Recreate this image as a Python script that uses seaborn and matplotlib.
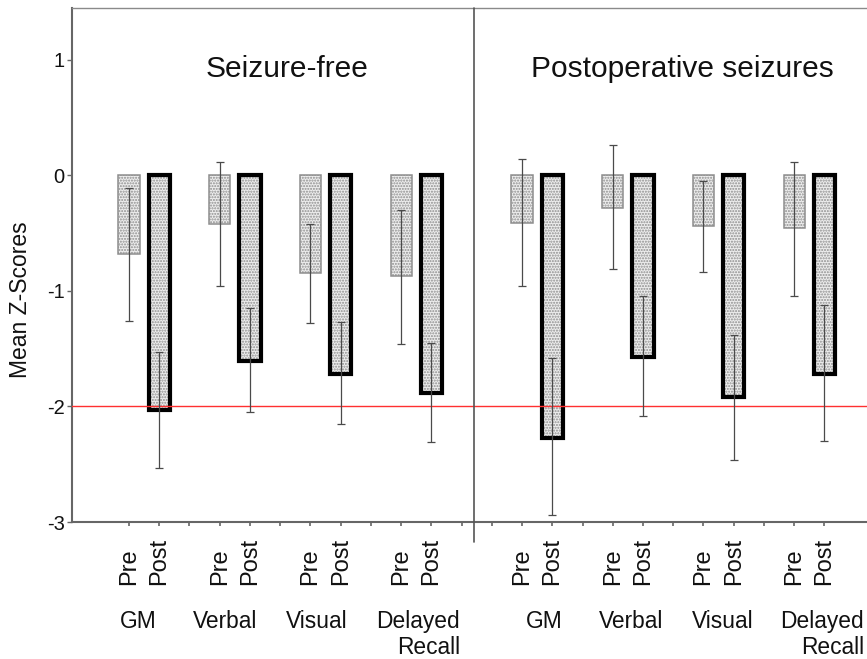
import matplotlib
matplotlib.use("Agg")
import matplotlib.pyplot as plt
import matplotlib.transforms as mtransforms
from matplotlib.patches import Rectangle
import numpy as np
import pandas as pd
import seaborn as sns

# ---------------- data ----------------
panels = ["Seizure-free", "Postoperative seizures"]
groups = ["GM", "Verbal", "Visual", "Delayed\nRecall"]
phases = ["Pre", "Post"]

# Seizure-free
sf_pre = [-0.68, -0.42, -0.85, -0.87]
sf_post = [-2.03, -1.61, -1.72, -1.88]
sf_pre_err_top = [-0.11, 0.115, -0.42, -0.30]
sf_pre_err_bot = [-1.26, -0.96, -1.28, -1.46]
sf_post_err_top = [-1.53, -1.15, -1.27, -1.45]
sf_post_err_bot = [-2.53, -2.05, -2.15, -2.31]

# Postoperative seizures
ps_pre = [-0.41, -0.28, -0.44, -0.46]
ps_post = [-2.27, -1.57, -1.92, -1.72]
ps_pre_err_top = [0.14, 0.26, -0.05, 0.11]
ps_pre_err_bot = [-0.955, -0.81, -0.84, -1.045]
ps_post_err_top = [-1.58, -1.045, -1.38, -1.12]
ps_post_err_bot = [-2.94, -2.08, -2.46, -2.30]

threshold = -2

# ---------------- build table ----------------
panel_vals = [
    (sf_pre, sf_post, sf_pre_err_top, sf_pre_err_bot, sf_post_err_top, sf_post_err_bot),
    (ps_pre, ps_post, ps_pre_err_top, ps_pre_err_bot, ps_post_err_top, ps_post_err_bot),
]
panel_start = [0, 13]
rows = []
for pi, (pre, post, pre_t, pre_b, post_t, post_b) in enumerate(panel_vals):
    for gi, g in enumerate(groups):
        base = panel_start[pi] + 3 * gi
        rows.append(dict(pos=base, value=pre[gi], top=pre_t[gi], bot=pre_b[gi],
                         phase="Pre", panel=panels[pi], group=g))
        rows.append(dict(pos=base + 1, value=post[gi], top=post_t[gi], bot=post_b[gi],
                         phase="Post", panel=panels[pi], group=g))
df = pd.DataFrame(rows).sort_values("pos").reset_index(drop=True)

# ---------------- style ----------------
sns.set_style("ticks")
plt.rcParams["font.family"] = ["Liberation Sans", "DejaVu Sans"]
plt.rcParams["axes.unicode_minus"] = False
plt.rcParams["hatch.linewidth"] = 1.0

W, H = 867, 659
fig = plt.figure(figsize=(W / 100, H / 100), dpi=100)
ax = fig.add_axes([72 / W, 1 - 522 / H, 1 - 72 / W, (522 - 8) / H])

sns.barplot(data=df, x="pos", y="value", native_scale=True, width=0.70,
            errorbar=None, color="#efefef", ax=ax, zorder=2)

phase_by_pos = dict(zip(df["pos"], df["phase"]))
for p in list(ax.patches):
    c = p.get_x() + p.get_width() / 2
    ph = phase_by_pos[int(round(c))]
    p.set_facecolor("#ededed")
    p.set_hatch("......")
    p.set_edgecolor("#8e8e8e")
    if ph == "Pre":
        p.set_linewidth(1.1)
    else:
        p.set_linewidth(0)
        ax.add_patch(Rectangle(p.get_xy(), p.get_width(), p.get_height(),
                               fill=False, edgecolor="black", linewidth=3.0, zorder=3))

# error bars
means = df["value"].to_numpy()
yerr = np.vstack([means - df["bot"].to_numpy(), df["top"].to_numpy() - means])
ax.errorbar(df["pos"], means, yerr=yerr, fmt="none", ecolor="#4a4a4a",
            elinewidth=0.9, capsize=2.6, capthick=0.9, zorder=5)

# threshold line
ax.axhline(threshold, color="#ff3030", lw=1.0, zorder=4)

# divider between panels
ax.axvline(11.42, ymin=-0.038, ymax=1, color="#555555", lw=1.2, clip_on=False, zorder=6)

# axes limits
ax.set_xlim(-1.886, 24.41)
ax.set_ylim(-3, 1.446)

# y axis
ax.set_yticks([1, 0, -1, -2, -3])
ax.set_yticklabels(["1", "0", "-1", "-2", "-3"])
ax.tick_params(axis="y", direction="out", length=3.8, width=1.0, color="#666666",
               labelsize=14.5, pad=1.5, labelcolor="#111111")
ax.set_ylabel("")
fig.text(21 / W, 1 - 300 / H, "Mean Z-Scores", rotation=90, ha="center", va="center",
         fontsize=16.5, color="#111111")

# x axis
ticks = list(range(0, 24))
labels = [phase_by_pos.get(t, "") for t in ticks]
ax.set_xticks(ticks)
ax.set_xticklabels(labels)
ax.set_xlabel("")
ax.tick_params(axis="x", direction="out", length=3.0, width=1.2, color="#666666",
               labelsize=17, pad=42.4, labelrotation=90, labelcolor="#111111")
for lab in ax.get_xticklabels():
    lab.set_verticalalignment("bottom")

# spines
for s in ["left", "bottom"]:
    ax.spines[s].set_color("#666666")
    ax.spines[s].set_linewidth(1.5)
ax.spines["top"].set_color("#8a8a8a")
ax.spines["top"].set_linewidth(1.0)
ax.spines["right"].set_visible(False)

# group labels
trans = mtransforms.blended_transform_factory(ax.transData, fig.transFigure)
label_off = [[0.30, 0.18, 0.22, 0.56], [0.72, 0.62, 0.63, 0.92]]
for pi in range(2):
    for gi, g in enumerate(groups):
        x = panel_start[pi] + 3 * gi + label_off[pi][gi]
        ax.text(x, 1 - 610 / H, g, transform=trans, ha="center", va="top",
                multialignment="right", fontsize=16.4, color="#111111",
                linespacing=1.15, clip_on=False)

# panel titles
ax.text(5.21, 0.851, panels[0], ha="center", va="baseline", fontsize=21.5, color="#111111")
ax.text(18.29, 0.851, panels[1], ha="center", va="baseline", fontsize=21.5, color="#111111")

fig.savefig("out.png", dpi=100)
